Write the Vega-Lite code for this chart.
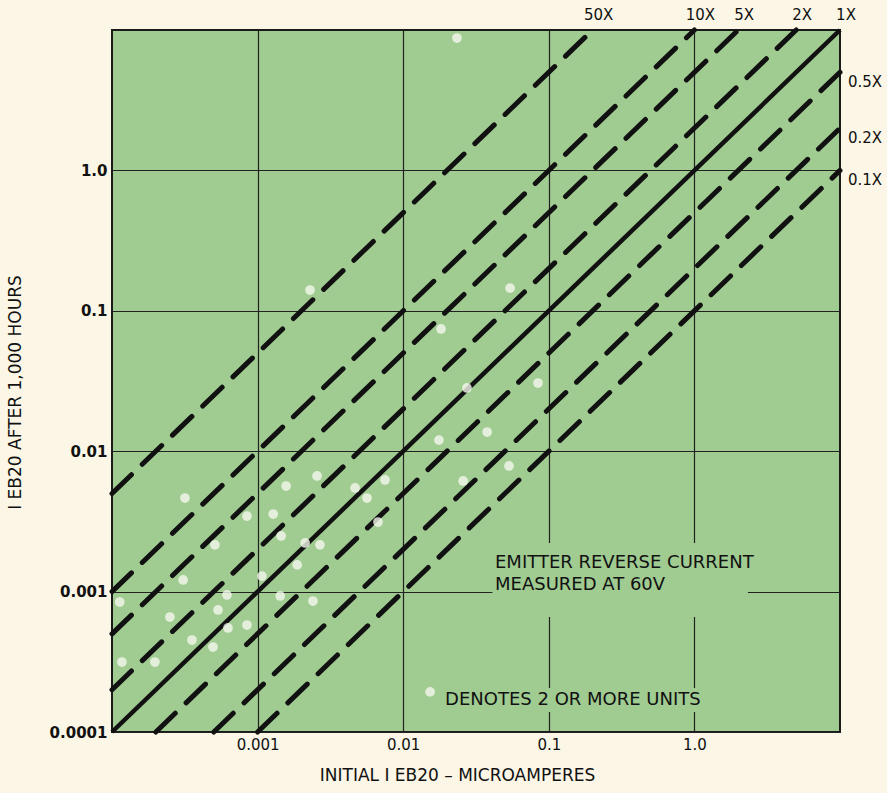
{
  "$schema": "https://vega.github.io/schema/vega-lite/v6.json",
  "width": 728,
  "height": 702,
  "autosize": {"type": "none"},
  "padding": {"left": 112, "top": 30, "right": 47, "bottom": 61},
  "background": "#fbf6e5",
  "config": {
    "font": "DejaVu Sans",
    "view": {"fill": "#a0cb91", "stroke": "#1a1a1a", "strokeWidth": 2}
  },
  "datasets": {
    "lines": [
      {"k": 50, "x": 0.0001, "y": 0.005}, {"k": 50, "x": 0.2, "y": 10},
      {"k": 10, "x": 0.0001, "y": 0.001}, {"k": 10, "x": 1, "y": 10},
      {"k": 5, "x": 0.0001, "y": 0.0005}, {"k": 5, "x": 2, "y": 10},
      {"k": 2, "x": 0.0001, "y": 0.0002}, {"k": 2, "x": 5, "y": 10},
      {"k": 1, "x": 0.0001, "y": 0.0001}, {"k": 1, "x": 10, "y": 10},
      {"k": 0.5, "x": 0.0002, "y": 0.0001}, {"k": 0.5, "x": 10, "y": 5},
      {"k": 0.2, "x": 0.0005, "y": 0.0001}, {"k": 0.2, "x": 10, "y": 2},
      {"k": 0.1, "x": 0.001, "y": 0.0001}, {"k": 0.1, "x": 10, "y": 1}
    ],
    "points": [
      {"x": 0.0234, "y": 8.77},
      {"x": 0.00229, "y": 0.1406},
      {"x": 0.0182, "y": 0.0742},
      {"x": 0.0542, "y": 0.145},
      {"x": 0.0274, "y": 0.0282},
      {"x": 0.0843, "y": 0.0306},
      {"x": 0.0377, "y": 0.0137},
      {"x": 0.0176, "y": 0.012},
      {"x": 0.0533, "y": 0.00785},
      {"x": 0.0258, "y": 0.00614},
      {"x": 0.0075, "y": 0.00624},
      {"x": 0.00467, "y": 0.00547},
      {"x": 0.00564, "y": 0.00464},
      {"x": 0.00671, "y": 0.00313},
      {"x": 0.000317, "y": 0.00464},
      {"x": 0.00157, "y": 0.00565},
      {"x": 0.00256, "y": 0.00666},
      {"x": 0.00128, "y": 0.00357},
      {"x": 0.000845, "y": 0.00345},
      {"x": 0.000509, "y": 0.00215},
      {"x": 0.00145, "y": 0.00249},
      {"x": 0.00212, "y": 0.00222},
      {"x": 0.00268, "y": 0.00215},
      {"x": 0.00187, "y": 0.00155},
      {"x": 0.00107, "y": 0.00129},
      {"x": 0.000616, "y": 0.000946},
      {"x": 0.000535, "y": 0.00074},
      {"x": 0.000308, "y": 0.00121},
      {"x": 0.0024, "y": 0.000857},
      {"x": 0.00143, "y": 0.000931},
      {"x": 0.000113, "y": 0.000843},
      {"x": 0.00025, "y": 0.000659},
      {"x": 0.000626, "y": 0.000551},
      {"x": 0.000845, "y": 0.000578},
      {"x": 0.000354, "y": 0.000452},
      {"x": 0.000494, "y": 0.000403},
      {"x": 0.000197, "y": 0.000315},
      {"x": 0.000117, "y": 0.000315}
    ],
    "key": [{"x": 0.0153, "y": 0.000193}],
    "toplabels": [
      {"label": "50X", "x": 0.2, "y": 10},
      {"label": "10X", "x": 1, "y": 10},
      {"label": "5X", "x": 2, "y": 10},
      {"label": "2X", "x": 5, "y": 10},
      {"label": "1X", "x": 10, "y": 10}
    ],
    "rightlabels": [
      {"label": "0.5X", "x": 10, "y": 5},
      {"label": "0.2X", "x": 10, "y": 2},
      {"label": "0.1X", "x": 10, "y": 1}
    ],
    "notes": [
      {"text": "EMITTER REVERSE CURRENT", "x": 0.0427, "y": 0.0016},
      {"text": "MEASURED AT 60V", "x": 0.0427, "y": 0.00112},
      {"text": "DENOTES 2 OR MORE UNITS", "x": 0.0194, "y": 0.000169}
    ],
    "patches": [
      {"x": 0.041, "x2": 2.33, "y": 0.00066, "y2": 0.00222},
      {"x": 0.013, "x2": 1.5, "y": 0.000139, "y2": 0.000206}
    ]
  },
  "encoding": {
    "x": {
      "field": "x", "type": "quantitative",
      "scale": {"type": "log", "domain": [0.0001, 10], "nice": false, "zero": false},
      "axis": {
        "values": [0.001, 0.01, 0.1, 1],
        "labelExpr": "datum.value == 1 ? '1.0' : format(datum.value, '~g')",
        "grid": true, "gridColor": "#222222", "gridWidth": 1.2, "gridOpacity": 1,
        "domain": false, "ticks": false,
        "labelFontSize": 15, "labelColor": "#111111", "labelPadding": 5, "labelFlush": false,
        "title": "INITIAL I EB20 – MICROAMPERES",
        "titleFontSize": 17, "titleFontWeight": "normal", "titleColor": "#111111",
        "titleX": 345, "titleY": 43, "titleAlign": "center", "titleBaseline": "middle"
      }
    },
    "y": {
      "field": "y", "type": "quantitative",
      "scale": {"type": "log", "domain": [0.0001, 10], "nice": false, "zero": false},
      "axis": {
        "values": [0.0001, 0.001, 0.01, 0.1, 1],
        "labelExpr": "datum.value == 1 ? '1.0' : format(datum.value, '~g')",
        "grid": true, "gridColor": "#222222", "gridWidth": 1.2, "gridOpacity": 1,
        "domain": false, "ticks": false,
        "labelFontSize": 15, "labelFontWeight": "bold", "labelColor": "#111111", "labelPadding": 5, "labelFlush": false,
        "title": "I  EB20 AFTER 1,000 HOURS",
        "titleFontSize": 17, "titleFontWeight": "normal", "titleColor": "#111111",
        "titleX": -97, "titleY": 362, "titleAngle": -90, "titleAlign": "center", "titleBaseline": "middle"
      }
    }
  },
  "layer": [
    {
      "data": {"name": "patches"},
      "mark": {"type": "rect", "fill": "#a0cb91", "stroke": null},
      "encoding": {"x2": {"field": "x2"}, "y2": {"field": "y2"}}
    },
    {
      "data": {"name": "lines"},
      "transform": [{"filter": "datum.k != 1"}],
      "mark": {"type": "line", "color": "#111111", "strokeWidth": 5, "strokeDash": [27, 15], "strokeCap": "round"},
      "encoding": {"detail": {"field": "k", "type": "nominal"}}
    },
    {
      "data": {"name": "lines"},
      "transform": [{"filter": "datum.k == 1"}],
      "mark": {"type": "line", "color": "#111111", "strokeWidth": 4.5},
      "encoding": {"detail": {"field": "k", "type": "nominal"}}
    },
    {
      "data": {"name": "points"},
      "mark": {"type": "circle", "size": 95, "color": "#f4f8ec", "opacity": 0.8},
      "encoding": {}
    },
    {
      "data": {"name": "key"},
      "mark": {"type": "circle", "size": 95, "color": "#f4f8ec", "opacity": 0.8},
      "encoding": {}
    },
    {
      "data": {"name": "toplabels"},
      "mark": {"type": "text", "fontSize": 15, "color": "#111111", "align": "center", "baseline": "middle", "dx": 6, "dy": -15},
      "encoding": {"text": {"field": "label"}}
    },
    {
      "data": {"name": "rightlabels"},
      "mark": {"type": "text", "fontSize": 15, "color": "#111111", "align": "left", "baseline": "middle", "dx": 8, "dy": 10},
      "encoding": {"text": {"field": "label"}}
    },
    {
      "data": {"name": "notes"},
      "mark": {"type": "text", "fontSize": 18, "color": "#111111", "align": "left", "baseline": "middle"},
      "encoding": {"text": {"field": "text"}}
    }
  ]
}
